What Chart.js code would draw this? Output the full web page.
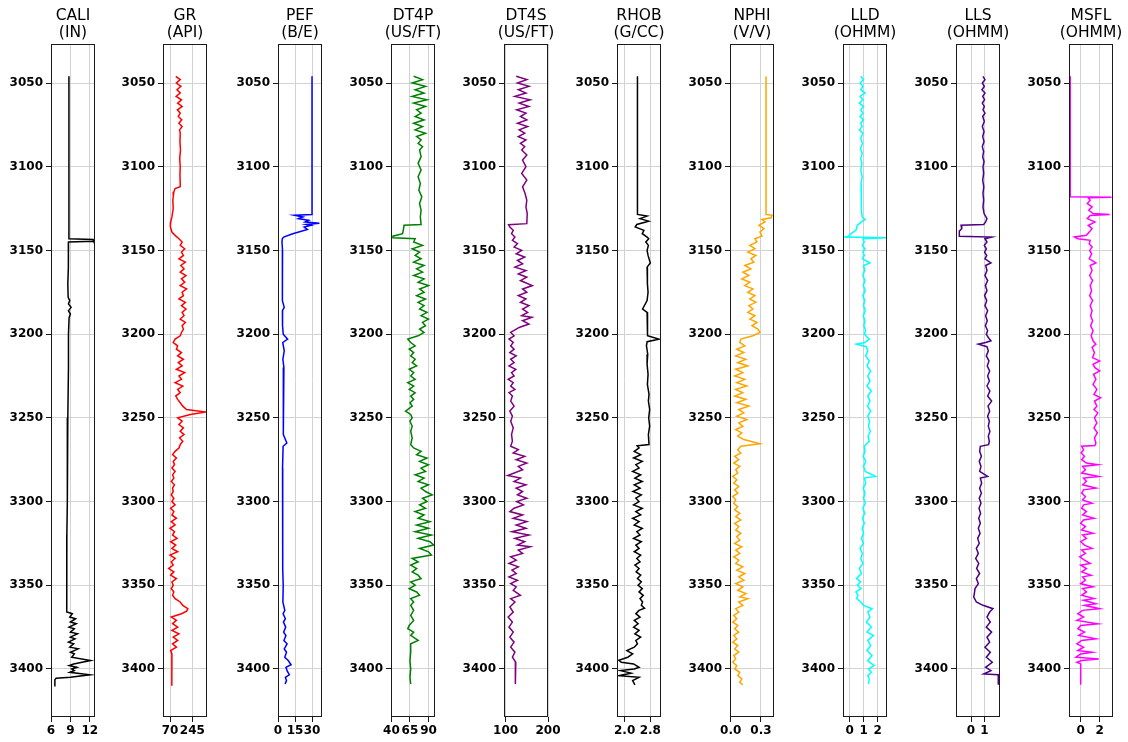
<!DOCTYPE html>
<html>
<head>
<meta charset="utf-8">
<title>Well log</title>
<script src="https://cdn.jsdelivr.net/npm/chart.js@4.4.1/dist/chart.umd.min.js"></script>
<style>
  html, body { margin: 0; padding: 0; background: #fff; }
  #logs { position: relative; width: 1128px; height: 742px; overflow: hidden; }
  #logs canvas { position: absolute; top: 0; }
</style>
</head>
<body>
<div id="logs"></div>
<script>
// depth axis
const depthTicks = [3050, 3100, 3150, 3200, 3250, 3300, 3350, 3400];
const depthRange = [3026.7, 3428.7];

// one entry per track
const trackNames = ['CALI', 'GR', 'PEF', 'DT4P', 'DT4S', 'RHOB', 'NPHI', 'LLD', 'LLS', 'MSFL'];
const trackUnits = ['(IN)', '(API)', '(B/E)', '(US/FT)', '(US/FT)', '(G/CC)', '(V/V)', '(OHMM)', '(OHMM)', '(OHMM)'];
const trackRanges = [
    [6, 12.8], [15, 360], [0, 38.8], [39.4, 98.8], [96.2, 200],
    [1.763, 3.133], [-0.007, 0.429], [-0.47, 2.67], [-1.13, 2.18], [-1.23, 3.4]
];
const trackTicks = [
    ['6', '9', '12'], ['70', '245'], ['0', '15', '30'], ['40', '65', '90'], ['100', '200'],
    ['2.0', '2.8'], ['0.0', '0.3'], ['0', '1', '2'], ['0', '1'], ['0', '2']
];

// curves: [depth, value]
const cali = [
    [3046, 8.77], [3143, 8.77], [3143.5, 12.5], [3144.5, 12.6], [3145, 8.7], [3150, 8.72], [3160, 8.65],
    [3170, 8.6], [3178, 8.65], [3180, 8.9], [3182, 8.7], [3184, 9.1], [3186, 8.7], [3188, 9.0], [3190, 8.8],
    [3200, 8.7], [3220, 8.7], [3250, 8.6], [3280, 8.55], [3300, 8.5], [3320, 8.45], [3340, 8.45], [3355, 8.4],
    [3366, 8.45], [3367, 9.3], [3369, 8.9], [3370, 9.8], [3372, 9.0], [3373, 9.9], [3375, 8.8], [3376, 9.6],
    [3378, 9.0], [3379, 10.1], [3381, 9.0], [3382, 9.7], [3384, 8.7], [3385, 9.5], [3387, 8.9], [3388, 10.2],
    [3390, 9.0], [3391, 9.6], [3393, 9.2], [3395, 12.1], [3397, 9.5], [3398, 8.8], [3399, 10.0], [3400, 9.2],
    [3401, 9.6], [3402, 8.9], [3403.5, 12.0], [3405, 9.0], [3405.5, 6.8], [3406.5, 6.6], [3410.5, 6.6]
];
const gr = [
    [3046, 115], [3048, 150], [3050, 120], [3052, 155], [3054, 125], [3056, 150], [3058, 118], [3060, 160],
    [3062, 130], [3064, 165], [3066, 128], [3068, 150], [3070, 135], [3072, 162], [3074, 140], [3076, 165],
    [3078, 145], [3080, 150], [3085, 148], [3090, 152], [3095, 146], [3100, 150], [3105, 148], [3110, 150],
    [3112, 150], [3113, 110], [3115, 100], [3118, 95], [3120, 92], [3125, 95], [3130, 85], [3133, 75],
    [3136, 73], [3139, 85], [3141, 110], [3143, 140], [3145, 165], [3147, 150], [3149, 185], [3151, 160],
    [3153, 175], [3155, 140], [3157, 190], [3159, 155], [3161, 180], [3163, 150], [3165, 195], [3167, 160],
    [3169, 185], [3171, 150], [3173, 200], [3175, 165], [3177, 175], [3179, 140], [3181, 190], [3183, 160],
    [3185, 195], [3187, 165], [3189, 180], [3191, 150], [3193, 190], [3195, 165], [3197, 175], [3199, 160],
    [3201, 150], [3203, 110], [3205, 95], [3207, 130], [3209, 120], [3211, 160], [3213, 130], [3215, 175],
    [3217, 135], [3219, 165], [3221, 120], [3223, 185], [3225, 140], [3227, 160], [3229, 110], [3231, 170],
    [3233, 130], [3235, 150], [3237, 115], [3239, 130], [3241, 150], [3243, 170], [3245, 200], [3246.5, 350],
    [3248, 230], [3250, 130], [3252, 165], [3254, 140], [3256, 175], [3258, 150], [3260, 180], [3262, 145],
    [3264, 170], [3266, 150], [3268, 140], [3270, 110], [3272, 90], [3274, 120], [3276, 95], [3278, 105],
    [3280, 85], [3282, 110], [3284, 90], [3286, 100], [3288, 80], [3290, 105], [3292, 90], [3294, 95],
    [3296, 80], [3298, 100], [3300, 85], [3302, 110], [3304, 75], [3306, 100], [3308, 85], [3310, 120],
    [3312, 80], [3314, 110], [3316, 70], [3318, 105], [3320, 90], [3322, 125], [3324, 75], [3326, 115],
    [3328, 85], [3330, 130], [3332, 70], [3334, 110], [3336, 80], [3338, 95], [3340, 60], [3342, 100],
    [3344, 75], [3346, 120], [3348, 85], [3350, 95], [3352, 80], [3354, 100], [3356, 90], [3358, 110],
    [3360, 150], [3362, 170], [3364, 210], [3365.5, 200], [3367, 160], [3369, 80], [3371, 120], [3373, 90],
    [3375, 130], [3377, 85], [3379, 140], [3381, 95], [3383, 130], [3385, 90], [3387, 120], [3389, 75],
    [3391, 85], [3395, 85], [3400, 84], [3405, 84], [3410, 84]
];
const pef = [
    [3046, 30], [3128.5, 30], [3129, 14.5], [3130, 22], [3131, 18], [3132, 27], [3133, 24], [3133.7, 36.5],
    [3134.5, 25], [3135, 29], [3136, 23], [3137.5, 26], [3140, 13], [3142, 5], [3143, 3.8], [3145, 3.5],
    [3150, 4.0], [3160, 3.6], [3170, 4.2], [3180, 3.8], [3184, 5.5], [3186, 3.9], [3195, 4.0], [3200, 4.6],
    [3203, 8.5], [3205, 4.2], [3210, 5.5], [3215, 4.3], [3220, 5.2], [3230, 4.5], [3240, 5.0], [3250, 4.5],
    [3260, 4.8], [3265, 7.8], [3267, 4.5], [3280, 4.0], [3290, 4.3], [3300, 3.8], [3310, 4.2], [3320, 4.0],
    [3330, 4.4], [3340, 4.2], [3350, 4.6], [3360, 4.3], [3365, 6.0], [3367, 4.5], [3370, 6.5], [3372, 4.8],
    [3375, 6.8], [3378, 5.0], [3380, 7.0], [3383, 5.2], [3385, 8.0], [3388, 5.5], [3390, 7.5], [3393, 6.0],
    [3395, 9.0], [3397.5, 11.5], [3399, 7], [3401, 8], [3403.5, 10], [3405, 6.5], [3407, 7.5], [3409, 6.2]
];
const dt4p = [
    [3046, 70], [3048, 82], [3050, 68], [3052, 86], [3054, 72], [3056, 84], [3058, 68], [3060, 88],
    [3062, 70], [3064, 86], [3066, 74], [3068, 80], [3070, 72], [3072, 84], [3074, 70], [3076, 82],
    [3078, 72], [3080, 86], [3082, 74], [3084, 80], [3086, 76], [3088, 82], [3090, 78], [3094, 80],
    [3098, 76], [3102, 80], [3106, 76], [3110, 79], [3114, 77], [3118, 81], [3122, 78], [3126, 80],
    [3130, 79], [3134.5, 80], [3135, 57], [3138, 56], [3140, 55], [3141.5, 42], [3142.5, 42], [3143, 72],
    [3145, 70], [3147, 82], [3149, 68], [3151, 78], [3153, 72], [3155, 80], [3157, 70], [3159, 84],
    [3161, 74], [3163, 82], [3165, 70], [3167, 84], [3169, 76], [3171, 90], [3173, 78], [3175, 84],
    [3177, 74], [3179, 86], [3181, 76], [3183, 84], [3185, 78], [3187, 88], [3189, 80], [3191, 90],
    [3193, 82], [3195, 86], [3197, 78], [3199, 84], [3201, 76], [3203, 62], [3205, 66], [3207, 72],
    [3209, 64], [3211, 70], [3213, 66], [3215, 72], [3217, 68], [3219, 74], [3221, 64], [3223, 70],
    [3225, 66], [3227, 72], [3229, 62], [3231, 70], [3233, 64], [3235, 72], [3237, 66], [3239, 70],
    [3241, 65], [3243, 68], [3246, 59], [3248, 66], [3250, 68], [3252, 65], [3255, 68], [3258, 66],
    [3262, 68], [3266, 66], [3268, 70], [3270, 80], [3272, 74], [3274, 88], [3276, 78], [3278, 90],
    [3280, 80], [3282, 86], [3284, 72], [3286, 84], [3288, 76], [3290, 90], [3292, 80], [3294, 86],
    [3296, 95], [3298, 82], [3300, 88], [3302, 78], [3304, 86], [3306, 72], [3308, 84], [3310, 76],
    [3312, 92], [3314, 74], [3316, 90], [3318, 72], [3320, 94], [3322, 76], [3324, 92], [3326, 97],
    [3328, 78], [3330, 90], [3332, 94], [3334, 68], [3336, 76], [3338, 66], [3340, 74], [3342, 68],
    [3344, 76], [3346, 80], [3348, 66], [3350, 72], [3352, 64], [3354, 74], [3356, 78], [3358, 66],
    [3360, 70], [3362, 66], [3365, 70], [3368, 66], [3371, 70], [3374, 64], [3376, 62], [3378, 70],
    [3380, 66], [3383, 76], [3385, 66], [3390, 66], [3395, 65], [3400, 66], [3405, 65], [3409, 66]
];
const dt4s = [
    [3046, 125], [3048, 150], [3050, 128], [3052, 155], [3054, 130], [3056, 148], [3058, 122], [3060, 158],
    [3062, 132], [3064, 155], [3066, 126], [3068, 148], [3070, 135], [3072, 150], [3074, 128], [3076, 152],
    [3078, 132], [3080, 145], [3082, 130], [3084, 148], [3086, 135], [3088, 145], [3090, 138], [3093, 150],
    [3096, 140], [3100, 148], [3104, 138], [3108, 150], [3112, 140], [3116, 146], [3120, 150], [3124, 148],
    [3128, 151], [3134, 150], [3134.6, 107], [3136, 110], [3138, 118], [3140, 114], [3142, 122], [3144, 116],
    [3146, 128], [3148, 120], [3150, 138], [3152, 125], [3154, 145], [3156, 128], [3158, 140], [3160, 122],
    [3162, 148], [3164, 130], [3166, 150], [3168, 135], [3171, 163], [3173, 140], [3175, 150], [3177, 130],
    [3179, 148], [3181, 135], [3183, 155], [3185, 140], [3187, 152], [3189, 138], [3190, 162], [3192, 140],
    [3194, 155], [3196, 132], [3199, 112], [3201, 120], [3203, 108], [3205, 118], [3207, 112], [3209, 120],
    [3211, 110], [3213, 125], [3215, 112], [3217, 120], [3219, 108], [3221, 124], [3223, 114], [3225, 120],
    [3227, 106], [3229, 118], [3231, 112], [3233, 122], [3235, 108], [3237, 116], [3240, 112], [3243, 120],
    [3246, 110], [3249, 116], [3252, 112], [3256, 118], [3260, 114], [3264, 116], [3267, 112], [3269, 130],
    [3271, 118], [3273, 145], [3275, 125], [3277, 150], [3279, 130], [3281, 140], [3284.5, 105], [3286, 135],
    [3288, 120], [3290, 148], [3292, 125], [3294, 140], [3296, 128], [3298, 150], [3300, 126], [3302, 142],
    [3304, 120], [3306, 110], [3308, 140], [3310, 118], [3312, 150], [3314, 125], [3316, 148], [3318, 115],
    [3320, 155], [3322, 122], [3324, 145], [3326, 128], [3327, 158], [3329, 130], [3331, 140], [3333, 112],
    [3335, 125], [3337, 108], [3339, 130], [3341, 115], [3343, 125], [3345, 108], [3347, 128], [3349, 112],
    [3351, 125], [3353, 118], [3356, 135], [3358, 112], [3360, 122], [3363, 110], [3366, 118], [3369, 106],
    [3372, 116], [3375, 108], [3378, 118], [3381, 110], [3384, 120], [3387, 112], [3390, 122], [3393, 116],
    [3396, 124], [3400, 123], [3405, 123], [3409, 123]
];
const rhob = [
    [3046, 2.40], [3128.5, 2.40], [3129.5, 2.70], [3131, 2.48], [3132.5, 2.75], [3134.5, 2.38], [3136, 2.33],
    [3138, 2.60], [3140, 2.55], [3142, 2.70], [3143, 2.75], [3145, 2.66], [3147, 2.74], [3150, 2.70],
    [3153, 2.73], [3157.5, 2.80], [3160, 2.70], [3165, 2.72], [3170, 2.70], [3175, 2.73], [3180, 2.70],
    [3185, 2.56], [3187, 2.70], [3192, 2.72], [3198, 2.70], [3201, 2.72], [3203, 3.06], [3204.5, 2.70],
    [3207, 2.68], [3212, 2.72], [3218, 2.70], [3224, 2.73], [3230, 2.71], [3236, 2.76], [3240, 2.74],
    [3245, 2.78], [3250, 2.75], [3255, 2.78], [3260, 2.74], [3266, 2.76], [3266.7, 2.39], [3268, 2.45],
    [3270, 2.30], [3272, 2.50], [3274, 2.28], [3276, 2.55], [3278, 2.35], [3280, 2.45], [3282, 2.25],
    [3284, 2.50], [3286, 2.32], [3288, 2.55], [3290, 2.30], [3292, 2.48], [3294, 2.26], [3296, 2.52],
    [3298, 2.35], [3300, 2.45], [3302, 2.28], [3304, 2.55], [3306, 2.35], [3308, 2.50], [3310, 2.25],
    [3312, 2.45], [3314, 2.30], [3316, 2.55], [3318, 2.38], [3320, 2.48], [3322, 2.28], [3324, 2.52],
    [3326, 2.35], [3328, 2.45], [3330, 2.30], [3332, 2.50], [3334, 2.38], [3336, 2.48], [3338, 2.32],
    [3340, 2.45], [3342, 2.36], [3344, 2.50], [3346, 2.40], [3348, 2.52], [3350, 2.42], [3352, 2.55],
    [3354, 2.45], [3356, 2.58], [3358, 2.48], [3360, 2.56], [3362, 2.52], [3363.7, 2.62], [3365, 2.45],
    [3367, 2.35], [3369, 2.48], [3371, 2.30], [3373, 2.42], [3375, 2.28], [3377, 2.45], [3379, 2.32],
    [3381, 2.50], [3383, 2.35], [3385, 2.40], [3387, 2.30], [3389, 2.07], [3391, 2.25], [3393, 2.10],
    [3394.8, 1.82], [3396, 1.90], [3397, 2.28], [3399, 2.45], [3400, 2.30], [3401, 1.87], [3402.5, 2.20],
    [3404, 1.82], [3405, 2.45], [3407, 2.25], [3409.5, 2.32]
];
const nphi = [
    [3046, 0.35], [3128.5, 0.35], [3129, 0.41], [3130.5, 0.40], [3131.5, 0.31], [3133, 0.34], [3135, 0.28],
    [3137, 0.33], [3139, 0.29], [3141.5, 0.31], [3143, 0.24], [3145, 0.26], [3147, 0.19], [3149, 0.24],
    [3151, 0.17], [3153, 0.25], [3155, 0.20], [3157, 0.23], [3159, 0.14], [3161, 0.20], [3163, 0.12],
    [3165, 0.18], [3167, 0.11], [3169, 0.19], [3171, 0.14], [3173, 0.22], [3175, 0.17], [3177, 0.24],
    [3179, 0.19], [3181, 0.25], [3183, 0.18], [3185, 0.22], [3187, 0.17], [3189, 0.24], [3191, 0.19],
    [3193, 0.26], [3195, 0.21], [3197, 0.27], [3199, 0.29], [3201, 0.22], [3203, 0.10], [3205, 0.09],
    [3207, 0.14], [3209, 0.06], [3211, 0.13], [3213, 0.05], [3215, 0.15], [3217, 0.07], [3219, 0.17],
    [3221, 0.05], [3223, 0.12], [3225, 0.04], [3227, 0.14], [3229, 0.06], [3231, 0.16], [3233, 0.05],
    [3235, 0.12], [3237, 0.04], [3239, 0.15], [3241, 0.06], [3243, 0.18], [3245, 0.08], [3247, 0.13],
    [3249, 0.06], [3251, 0.16], [3253, 0.08], [3255, 0.12], [3257, 0.05], [3259, 0.11], [3261, 0.07],
    [3263, 0.13], [3265.5, 0.29], [3267, 0.10], [3269, 0.07], [3271, 0.10], [3273, 0.04], [3275, 0.08],
    [3277, 0.03], [3279, 0.09], [3281, 0.05], [3283, 0.07], [3285, 0.02], [3287, 0.06], [3289, 0.03],
    [3291, 0.08], [3293, 0.04], [3295, 0.07], [3297, 0.02], [3299, 0.05], [3301, 0.03], [3303, 0.07],
    [3305, 0.04], [3307, 0.09], [3309, 0.05], [3311, 0.10], [3313, 0.04], [3315, 0.08], [3317, 0.05],
    [3319, 0.10], [3321, 0.06], [3323, 0.09], [3325, 0.04], [3327, 0.11], [3329, 0.05], [3331, 0.09],
    [3333, 0.03], [3335, 0.08], [3337, 0.05], [3339, 0.12], [3341, 0.06], [3343, 0.14], [3345, 0.08],
    [3347, 0.13], [3349, 0.05], [3351, 0.12], [3353, 0.07], [3355, 0.15], [3357, 0.09], [3358, 0.17],
    [3360, 0.08], [3362, 0.12], [3364, 0.05], [3366, 0.08], [3368, 0.03], [3370, 0.06], [3372, 0.02],
    [3374, 0.07], [3376, 0.04], [3378, 0.08], [3380, 0.03], [3382, 0.06], [3384, 0.02], [3386, 0.07],
    [3388, 0.04], [3390, 0.08], [3392, 0.03], [3394, 0.05], [3396, 0.02], [3398, 0.06], [3400, 0.04],
    [3402, 0.09], [3404, 0.07], [3406, 0.11], [3408, 0.09], [3409.5, 0.12]
];
const lld = [
    [3046, 0.80], [3048, 1.00], [3050, 0.75], [3052, 0.95], [3054, 0.80], [3056, 1.10], [3058, 0.75],
    [3060, 0.95], [3062, 0.70], [3064, 1.00], [3066, 0.80], [3068, 0.95], [3070, 0.75], [3072, 1.00],
    [3074, 0.80], [3076, 0.90], [3078, 0.70], [3080, 0.95], [3083, 0.80], [3086, 0.92], [3089, 0.78],
    [3092, 0.90], [3095, 0.80], [3098, 0.88], [3102, 0.80], [3106, 0.90], [3110, 0.82], [3114, 0.88],
    [3118, 0.82], [3122, 0.86], [3126, 0.82], [3130, 0.90], [3131.5, 1.10], [3133, 0.85], [3135, 0.55],
    [3138, 0.45], [3140, 0.10], [3141.5, -0.05], [3142, -0.32], [3142.5, 2.62], [3143, 0.95], [3145, 1.05],
    [3147, 0.90], [3149, 1.10], [3151, 0.95], [3153, 1.05], [3155, 0.92], [3157.5, 1.45], [3159, 1.00],
    [3162, 1.08], [3165, 0.95], [3168, 1.10], [3171, 0.98], [3174, 1.12], [3177, 0.95], [3180, 1.08],
    [3183, 1.00], [3186, 1.12], [3189, 0.98], [3192, 1.10], [3195, 1.02], [3198, 1.15], [3200, 1.05],
    [3203, 1.40], [3205, 1.10], [3206, 0.50], [3207.5, 1.20], [3210, 1.30], [3213, 1.15], [3216, 1.40],
    [3219, 1.25], [3222, 1.50], [3225, 1.30], [3228, 1.45], [3231, 1.25], [3234, 1.55], [3237, 1.30],
    [3240, 1.45], [3243, 1.28], [3246, 1.50], [3249, 1.30], [3252, 1.42], [3255, 1.35], [3258, 1.48],
    [3261, 1.32], [3264, 1.40], [3267, 1.05], [3270, 1.10], [3273, 0.98], [3276, 1.15], [3279, 1.00],
    [3282, 1.12], [3285, 1.85], [3286, 1.05], [3289, 1.15], [3292, 0.98], [3295, 1.10], [3298, 1.00],
    [3301, 1.12], [3304, 0.95], [3307, 1.08], [3310, 0.92], [3313, 1.05], [3316, 0.90], [3319, 1.00],
    [3322, 0.85], [3325, 0.98], [3328, 0.75], [3331, 0.92], [3334, 0.80], [3337, 0.95], [3340, 0.70],
    [3343, 0.85], [3346, 0.50], [3348, 0.78], [3350, 0.55], [3352, 0.82], [3354, 0.45], [3356, 0.60],
    [3358, 0.50], [3360, 0.80], [3362, 1.00], [3364, 1.60], [3366, 1.30], [3369, 1.45], [3372, 1.20],
    [3375, 1.55], [3378, 1.25], [3380, 1.70], [3383, 1.30], [3386, 1.50], [3389, 1.25], [3392, 1.60],
    [3395, 1.30], [3398, 1.75], [3400, 1.35], [3402, 1.55], [3404, 1.30], [3406, 1.40], [3409, 1.35]
];
const lls = [
    [3046, 0.90], [3048, 1.05], [3050, 0.85], [3052, 1.00], [3054, 0.82], [3056, 1.05], [3058, 0.88],
    [3060, 1.02], [3062, 0.85], [3064, 1.00], [3066, 0.90], [3068, 1.05], [3070, 0.88], [3073, 1.00],
    [3076, 0.85], [3079, 0.98], [3082, 0.88], [3085, 0.98], [3088, 0.85], [3091, 0.95], [3094, 0.88],
    [3097, 0.98], [3100, 0.90], [3104, 0.95], [3108, 0.88], [3112, 0.96], [3116, 0.90], [3120, 0.95],
    [3124, 0.90], [3128, 0.98], [3131, 1.20], [3133, 1.10], [3134.5, 0.95], [3135, -0.75], [3137, -0.70],
    [3138.5, -0.88], [3141.5, -0.88], [3142, 1.55], [3143, 1.05], [3145, 1.20], [3147, 1.00], [3149, 1.15],
    [3151, 1.02], [3153, 1.18], [3155, 1.05], [3157.5, 1.50], [3159, 1.10], [3162, 1.20], [3165, 1.05],
    [3168, 1.25], [3171, 1.08], [3174, 1.20], [3177, 1.02], [3180, 1.18], [3183, 1.05], [3186, 1.25],
    [3189, 1.10], [3192, 1.22], [3195, 1.08], [3198, 1.25], [3200, 1.15], [3202, 1.30], [3204, 1.50],
    [3205, 1.10], [3206, 0.55], [3207.5, 1.20], [3210, 1.30], [3213, 1.15], [3216, 1.35], [3219, 1.22],
    [3222, 1.40], [3225, 1.25], [3228, 1.38], [3231, 1.20], [3234, 1.42], [3237, 1.25], [3240, 1.55],
    [3243, 1.28], [3246, 1.40], [3249, 1.25], [3252, 1.38], [3255, 1.30], [3258, 1.42], [3261, 1.30],
    [3264, 1.38], [3266, 1.32], [3267, 0.70], [3270, 0.65], [3273, 0.78], [3276, 0.62], [3279, 0.75],
    [3282, 0.65], [3285, 1.25], [3286, 0.70], [3289, 0.80], [3292, 0.65], [3295, 0.78], [3298, 0.62],
    [3301, 0.75], [3304, 0.60], [3307, 0.72], [3310, 0.58], [3313, 0.70], [3316, 0.55], [3319, 0.68],
    [3322, 0.50], [3325, 0.62], [3328, 0.40], [3331, 0.55], [3334, 0.35], [3337, 0.58], [3340, 0.42],
    [3343, 0.65], [3346, 0.40], [3349, 0.55], [3352, 0.30], [3355, 0.25], [3357, 0.20], [3360, 0.40],
    [3362, 0.90], [3364, 1.65], [3366, 1.40], [3369, 1.20], [3372, 1.45], [3375, 1.15], [3378, 1.55],
    [3381, 1.20], [3384, 1.40], [3387, 1.05], [3390, 1.45], [3393, 1.15], [3396, 1.60], [3399, 1.10],
    [3401, 1.50], [3403, 0.95], [3403.5, 2.05], [3409.5, 2.05]
];
const msfl = [
    [3046, -1.10], [3118, -1.10], [3118.3, 3.25], [3118.6, 0.80], [3120, 1.00], [3122, 0.70], [3124, 1.20],
    [3126, 0.85], [3128, 1.30], [3128.6, 3.05], [3129.2, 1.00], [3131, 0.70], [3133, 1.50], [3135, 0.80],
    [3137, 1.20], [3139, 0.90], [3141, 0.60], [3142, -0.65], [3143, -0.30], [3144, 1.00], [3146, 0.90],
    [3148, 1.20], [3150, 0.95], [3152, 1.15], [3155, 0.90], [3157.5, 1.60], [3159, 1.00], [3162, 1.20],
    [3165, 0.95], [3168, 1.25], [3171, 1.00], [3174, 1.15], [3177, 0.95], [3180, 1.25], [3183, 1.00],
    [3186, 1.20], [3189, 1.05], [3192, 1.25], [3195, 1.05], [3198, 1.30], [3201, 1.10], [3204, 1.30],
    [3206, 1.60], [3208, 1.20], [3211, 1.45], [3214, 1.25], [3216, 2.00], [3218, 1.30], [3220, 1.50],
    [3222, 2.00], [3224, 1.35], [3227, 1.60], [3230, 1.30], [3233, 1.70], [3236, 1.40], [3238, 2.10],
    [3240, 1.45], [3243, 1.70], [3245, 1.40], [3247, 1.80], [3250, 1.45], [3253, 1.70], [3256, 1.40],
    [3259, 1.75], [3262, 1.45], [3265, 1.60], [3266.5, 1.50], [3267, 0.10], [3269, 0.30], [3271, 0.05],
    [3273, 0.40], [3275, 0.10], [3277, 0.60], [3278, 1.80], [3279, 0.20], [3281, 0.50], [3283, 0.10],
    [3285, 1.90], [3286, 0.30], [3288, 0.60], [3290, 0.20], [3292, 1.60], [3293, 0.30], [3295, 0.10],
    [3297, 0.50], [3299, 0.20], [3301, 1.20], [3302, 0.30], [3304, 0.10], [3306, 0.60], [3308, 0.20],
    [3310, 1.40], [3311, 0.30], [3313, 0.00], [3315, 0.50], [3317, 0.10], [3319, 1.30], [3320, 0.20],
    [3322, 0.60], [3324, 0.00], [3326, 0.40], [3328, 1.20], [3329, 0.10], [3331, 0.50], [3333, -0.10],
    [3335, 0.40], [3337, 1.00], [3338, 0.00], [3340, 0.60], [3342, 0.10], [3344, 1.10], [3345, 0.20],
    [3347, 0.50], [3349, 0.00], [3351, 1.30], [3352, 0.20], [3354, 0.60], [3356, 0.10], [3358, 1.40],
    [3359, 0.30], [3361, 1.60], [3362, 0.40], [3364, 2.00], [3365, 0.20], [3367, -0.30], [3369, 0.30],
    [3371, -0.40], [3373, 1.80], [3374, 0.00], [3376, -0.30], [3378, 0.40], [3380, -0.20], [3382, 1.60],
    [3383, 0.10], [3385, -0.40], [3387, 0.30], [3389, -0.30], [3390, 1.20], [3391, 0.00], [3393, -0.50],
    [3394, 1.90], [3395, 0.10], [3396, -0.40], [3397, 0.00], [3409.5, 0.00]
];

const curves = [cali, gr, pef, dt4p, dt4s, rhob, nphi, lld, lls, msfl];
const curveColors = ['#000000', '#ff0000', '#0000ff', '#008000', '#800080',
                     '#000000', '#ffa500', '#00ffff', '#4b0082', '#ff00ff'];

// layout of the panels (plot box left edge on the page)
const panelLeft = [51, 163, 278, 391, 504, 617, 730, 843, 956, 1069];
const AXIS_W = 51;      // room for depth labels
const BOX_W = 44;
const CANVAS_W = 113;
const CANVAS_H = 742;
const TOP_H = 44;
const XAXIS_H = 25;

Chart.defaults.font.family = '"DejaVu Sans", Verdana, sans-serif';
Chart.defaults.color = '#000';

// full frame round the plot area, drawn over the curves
const frame = {
    id: 'frame',
    afterDatasetsDraw(chart) {
        const { ctx, chartArea: a } = chart;
        ctx.save();
        ctx.strokeStyle = '#1a1a1a';
        ctx.lineWidth = 1;
        ctx.strokeRect(Math.round(a.left) + 0.5, Math.round(a.top) + 0.5,
                       Math.round(a.right - a.left) - 1, Math.round(a.bottom - a.top) - 1);
        ctx.restore();
    }
};

// two-line track heading (mnemonic + unit), centred over the plot box
const trackHeading = {
    id: 'trackHeading',
    afterDraw(chart, args, opts) {
        const { ctx, chartArea: a } = chart;
        const cx = (a.left + a.right) / 2;
        ctx.save();
        ctx.fillStyle = '#000';
        ctx.font = '15.5px "DejaVu Sans", Verdana, sans-serif';
        ctx.textAlign = 'center';
        ctx.textBaseline = 'middle';
        opts.lines.forEach((line, k) => ctx.fillText(line, cx, 16 + k * 17));
        ctx.restore();
    }
};

const tickFont = { size: 12, weight: 'bold' };
const holder = document.getElementById('logs');

curves.forEach((curve, i) => {
    const canvas = document.createElement('canvas');
    canvas.width = CANVAS_W;
    canvas.height = CANVAS_H;
    canvas.style.left = (panelLeft[i] - AXIS_W) + 'px';
    canvas.style.width = CANVAS_W + 'px';
    canvas.style.height = CANVAS_H + 'px';
    holder.appendChild(canvas);

    const labels = trackTicks[i];

    new Chart(canvas.getContext('2d'), {
        type: 'line',
        data: {
            datasets: [{
                data: curve.map(([depth, value]) => ({ x: value, y: depth })),
                borderColor: curveColors[i],
                borderWidth: 1.5,
                pointRadius: 0,
                tension: 0,
                fill: false
            }]
        },
        options: {
            responsive: false,
            animation: false,
            indexAxis: 'y',
            events: [],
            layout: { padding: { top: TOP_H, left: 0, bottom: 0, right: CANVAS_W - AXIS_W - BOX_W } },
            plugins: {
                legend: { display: false },
                tooltip: { enabled: false },
                title: { display: false },
                trackHeading: { lines: [trackNames[i], trackUnits[i]] }
            },
            scales: {
                x: {
                    type: 'linear',
                    position: 'bottom',
                    min: trackRanges[i][0],
                    max: trackRanges[i][1],
                    afterBuildTicks: scale => {
                        scale.ticks = labels.map(t => ({ value: parseFloat(t) }));
                    },
                    afterFit: scale => { scale.height = XAXIS_H; },
                    ticks: {
                        autoSkip: false,
                        maxRotation: 0,
                        minRotation: 0,
                        padding: 2,
                        font: tickFont,
                        callback: (value, index) => labels[index]
                    },
                    grid: { color: '#d2d2d2', tickColor: '#1a1a1a', tickLength: 5, lineWidth: 1 },
                    border: { display: false }
                },
                y: {
                    type: 'linear',
                    position: 'left',
                    reverse: true,
                    min: depthRange[0],
                    max: depthRange[1],
                    afterBuildTicks: scale => {
                        scale.ticks = depthTicks.map(v => ({ value: v }));
                    },
                    afterFit: scale => { scale.width = AXIS_W; },
                    ticks: {
                        autoSkip: false,
                        padding: 3,
                        font: tickFont,
                        callback: value => String(value)
                    },
                    grid: { color: '#d2d2d2', tickColor: '#1a1a1a', tickLength: 5, lineWidth: 1 },
                    border: { display: false }
                }
            }
        },
        plugins: [frame, trackHeading]
    });
});
</script>
</body>
</html>
